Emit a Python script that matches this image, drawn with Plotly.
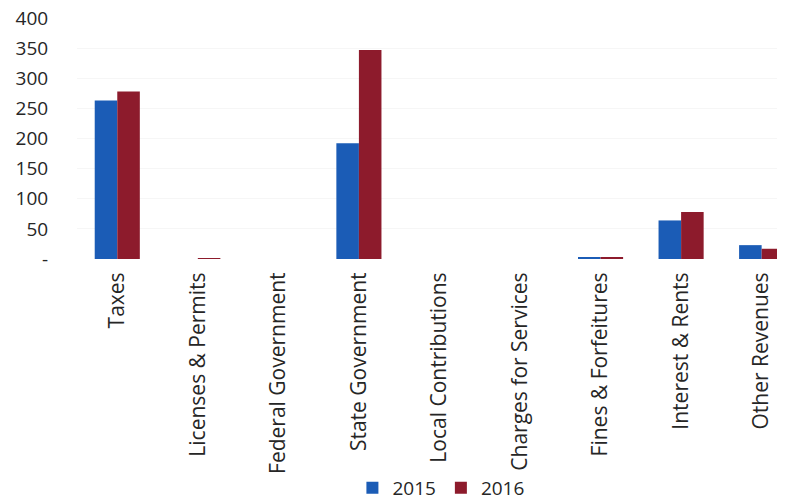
import plotly.graph_objects as go

categories = ["Taxes", "Licenses & Permits", "Federal Government", "State Government",
              "Local Contributions", "Charges for Services", "Fines & Forfeitures",
              "Interest & Rents", "Other Revenues"]
values_2015 = [263, 0, 0, 192, 0, 0, 2, 64, 23]
values_2016 = [278, 1, 0, 347, 0, 0, 3, 78, 17]
y_tick_vals = [0, 50, 100, 150, 200, 250, 300, 350, 400]
y_tick_text = ["-", "50", "100", "150", "200", "250", "300", "350", "400"]

FONT = "Open Sans, Lato, sans-serif"
TXT = "#262626"

fig = go.Figure()
fig.add_trace(go.Bar(x=categories, y=values_2015, name="2015",
                     marker=dict(color="#1b5cb6", line=dict(width=0))))
fig.add_trace(go.Bar(x=categories, y=values_2016, name="2016",
                     marker=dict(color="#8d1b2c", line=dict(width=0))))

# page body has an 8px default margin, so the figure is sized to fill the rest
fig.update_layout(
    width=777, height=492,
    margin=dict(l=69, r=0, t=10, b=241, autoexpand=False),
    paper_bgcolor="white", plot_bgcolor="white",
    barmode="group", bargap=0.44, bargroupgap=0,
    font=dict(family=FONT, size=19, color=TXT),
    showlegend=True,
    legend=dict(orientation="h", x=0.514, xanchor="center", y=-0.95, yanchor="middle",
                font=dict(size=19, color=TXT), itemwidth=30,
                bgcolor="rgba(0,0,0,0)"),
    xaxis=dict(range=[-0.5, 8.29], tickangle=-90, showline=False, automargin=False,
               ticks="outside", ticklen=4, tickcolor="rgba(0,0,0,0)",
               tickfont=dict(size=21, color=TXT), ticklabeloverflow="allow"),
    yaxis=dict(range=[0, 400], tickvals=y_tick_vals, ticktext=y_tick_text, automargin=False,
               showgrid=True, gridcolor="#f6f6f6", zeroline=False,
               ticks="outside", ticklen=24, tickcolor="rgba(0,0,0,0)",
               tickfont=dict(size=19, color=TXT), ticklabeloverflow="allow"),
)

fig.write_html("out.html")
